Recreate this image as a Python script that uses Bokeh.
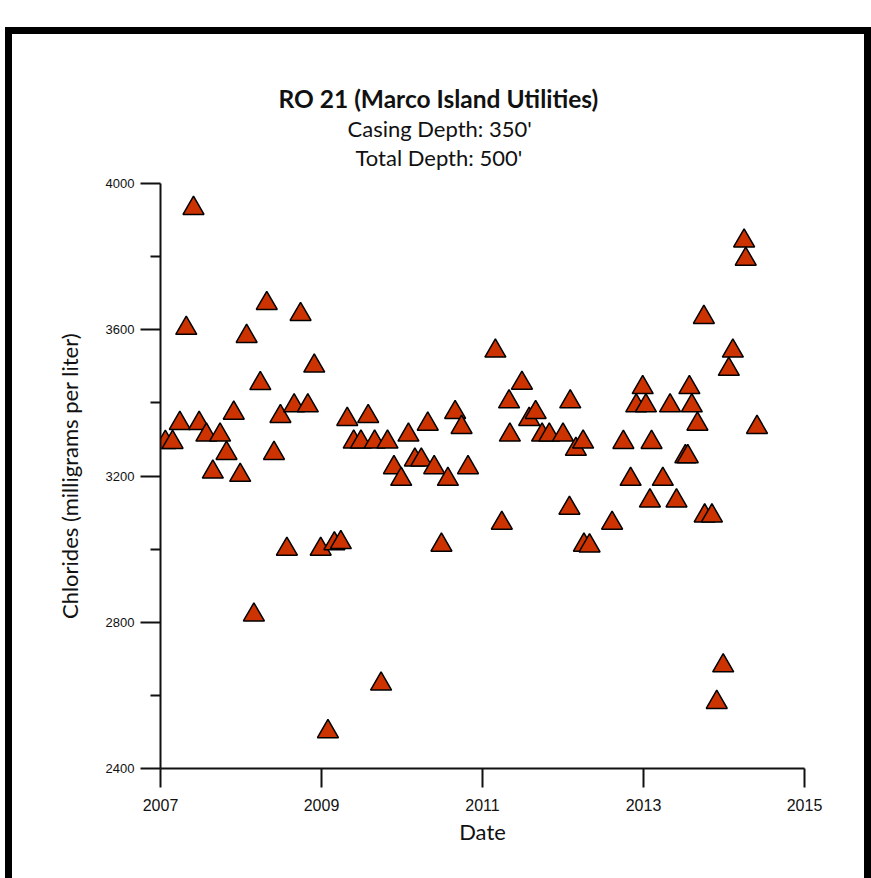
from bokeh.plotting import figure
from bokeh.models import Range1d, FixedTicker, Title, ColumnDataSource
from bokeh.embed import file_html
from bokeh.resources import INLINE

# ---- data (decimal year, chlorides mg/L) ----
years = [2007.06, 2007.15, 2007.24, 2007.32, 2007.41, 2007.48, 2007.57, 2007.65, 2007.74, 2007.82,
         2007.91, 2007.99, 2008.07, 2008.16, 2008.24, 2008.32, 2008.41, 2008.49, 2008.57, 2008.66,
         2008.74, 2008.83, 2008.91, 2008.99, 2009.08, 2009.16, 2009.24, 2009.32, 2009.40, 2009.49,
         2009.58, 2009.66, 2009.74, 2009.82, 2009.90, 2009.99, 2010.08, 2010.16, 2010.24, 2010.32,
         2010.40, 2010.49, 2010.57, 2010.66, 2010.74, 2010.82, 2011.16, 2011.24, 2011.33, 2011.34,
         2011.49, 2011.58, 2011.66, 2011.74, 2011.83, 2012.00, 2012.08, 2012.09, 2012.16, 2012.25,
         2012.26, 2012.33, 2012.61, 2012.75, 2012.84, 2012.91, 2012.99, 2013.03, 2013.08, 2013.10,
         2013.24, 2013.33, 2013.41, 2013.52, 2013.55, 2013.57, 2013.60, 2013.67, 2013.75, 2013.76,
         2013.85, 2013.91, 2013.99, 2014.06, 2014.11, 2014.25, 2014.27, 2014.41]
chlorides = [3292, 3292, 3344, 3604, 3932, 3344, 3312, 3211, 3312, 3262,
             3372, 3202, 3582, 2820, 3453, 3672, 3262, 3363, 3000, 3392,
             3642, 3392, 3501, 3000, 2501, 3015, 3018, 3355, 3293, 3293,
             3363, 3293, 2631, 3293, 3223, 3191, 3312, 3244, 3244, 3342,
             3223, 3011, 3191, 3374, 3333, 3223, 3542, 3071, 3403, 3312,
             3454, 3355, 3374, 3312, 3312, 3312, 3112, 3403, 3273, 3293,
             3011, 3009, 3071, 3292, 3191, 3392, 3442, 3392, 3132, 3292,
             3191, 3392, 3132, 3253, 3253, 3442, 3392, 3342, 3634, 3091,
             3091, 2581, 2681, 3492, 3542, 3843, 3793, 3333]

x_ticks = [2007, 2009, 2011, 2013, 2015]
y_ticks = [2400, 2800, 3200, 3600, 4000]
y_minor_ticks = [2600, 3000, 3400, 3800]

title_text = "RO 21 (Marco Island Utilities)"
subtitle_1 = "Casing Depth:  350'"
subtitle_2 = "Total Depth:  500'"
x_label = "Date"
y_label = "Chlorides (milligrams per liter)"

W, H = 852, 844
LEFT, RIGHT, TOP, BOTTOM = 148, 74, 149, 117

p = figure(width=W, height=H, output_backend="svg", toolbar_location=None,
           x_range=Range1d(2007, 2015), y_range=Range1d(2400, 4000),
           min_border_left=LEFT, min_border_right=RIGHT,
           min_border_top=TOP, min_border_bottom=BOTTOM,
           styles={"box-sizing": "content-box",
                   "margin-left": "5px", "margin-top": "27px",
                   "border-left": "7px solid black", "border-top": "7px solid black",
                   "border-right": "7px solid black"})
p.outline_line_color = None
p.grid.visible = False
p.background_fill_color = "white"
p.border_fill_color = "white"

src = ColumnDataSource(dict(x=years, y=chlorides))
p.scatter("x", "y", source=src, marker="triangle", size=21,
          fill_color="#CC3300", line_color="black", line_width=1.5)

for ax in (p.xaxis[0], p.yaxis[0]):
    ax.axis_line_width = 2
    ax.axis_line_color = "#111111"
    ax.major_tick_line_width = 2
    ax.major_tick_line_color = "#111111"
    ax.minor_tick_line_width = 2
    ax.minor_tick_line_color = "#111111"
    ax.major_tick_in = 0
    ax.minor_tick_in = 0
    ax.major_label_text_font = "Liberation Sans"
    ax.major_label_text_color = "#111111"
    ax.axis_label_text_font = "Lato"
    ax.axis_label_text_font_size = "22px"
    ax.axis_label_text_font_style = "normal"
    ax.axis_label_text_color = "#111111"

xa = p.xaxis[0]
xa.ticker = FixedTicker(ticks=x_ticks)
xa.major_tick_out = 19
xa.minor_tick_line_color = None
xa.major_label_text_font_size = "16px"
xa.major_label_standoff = 11
xa.axis_label = x_label
xa.axis_label_standoff = 4

ya = p.yaxis[0]
ya.ticker = FixedTicker(ticks=y_ticks, minor_ticks=y_minor_ticks)
ya.major_tick_out = 20
ya.minor_tick_out = 10
ya.major_label_text_font_size = "13px"
ya.major_label_standoff = 6
ya.axis_label = y_label
ya.axis_label_standoff = 20

# titles stacked above the frame (last added is outermost)
p.add_layout(Title(text=" ", align="left", standoff=0, text_font="Lato",
                   text_font_size="9px"), "above")
p.add_layout(Title(text=subtitle_2, align="left", offset=195, standoff=0,
                   text_font="Lato", text_font_size="22px", text_font_style="normal",
                   text_color="#111111"), "above")
p.add_layout(Title(text=subtitle_1, align="left", offset=187, standoff=0,
                   text_font="Lato", text_font_size="22px", text_font_style="normal",
                   text_color="#111111"), "above")
p.add_layout(Title(text=title_text, align="left", offset=118, standoff=0,
                   text_font="Lato", text_font_size="24.5px", text_font_style="bold",
                   text_color="#111111"), "above")

open("out.html", "w").write(file_html(p, INLINE))
